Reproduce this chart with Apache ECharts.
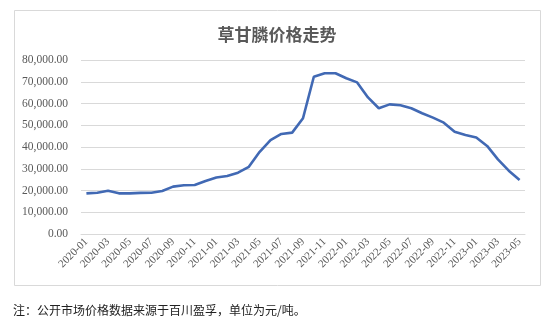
<!DOCTYPE html>
<html>
<head>
<meta charset="utf-8">
<script src="https://cdn.jsdelivr.net/npm/echarts@6/dist/echarts.min.js"></script>
<style>
html,body{margin:0;padding:0;background:#fff;}
#c{width:554px;height:325px;}
</style>
</head>
<body>
<div id="c"></div>
<script>
var titleText = '草甘膦价格走势';
var noteText = '注：公开市场价格数据来源于百川盈孚，单位为元/吨。';
var months = ['2020-01','2020-02','2020-03','2020-04','2020-05','2020-06','2020-07','2020-08','2020-09','2020-10','2020-11','2020-12',
  '2021-01','2021-02','2021-03','2021-04','2021-05','2021-06','2021-07','2021-08','2021-09','2021-10','2021-11','2021-12',
  '2022-01','2022-02','2022-03','2022-04','2022-05','2022-06','2022-07','2022-08','2022-09','2022-10','2022-11','2022-12',
  '2023-01','2023-02','2023-03','2023-04','2023-05'];
var prices = [18700,19000,19900,18700,18700,18900,19000,19800,21800,22400,22500,24400,
  26000,26700,28200,30900,37800,43200,46000,46600,53200,72300,73900,73900,
  71600,69700,62800,57800,59600,59200,57800,55500,53500,51200,47000,45500,
  44400,40500,34300,29100,24800];
var yTicks = {min:0, max:80000, interval:10000};

function fmt(v){
  var s = Math.round(v).toString().replace(/\B(?=(\d{3})+(?!\d))/g, ',');
  return s + '.00';
}
var serif = "'Liberation Serif', 'DejaVu Serif', serif";

var chart = echarts.init(document.getElementById('c'), null, {renderer:'canvas'});
chart.setOption({
  animation:false,
  backgroundColor:'#fff',
  title:{
    text:titleText, left:'center', top:21,
    textStyle:{fontFamily:'Noto Sans CJK SC', fontSize:17, fontWeight:'bold', color:'#595959'}
  },
  grid:{left:81, right:29, top:60, bottom:91, containLabel:false},
  xAxis:{
    type:'category', data:months, boundaryGap:true,
    axisLine:{show:true, lineStyle:{color:'#d9d9d9', width:1}},
    axisTick:{show:false},
    axisLabel:{interval:1, rotate:45, margin:6, color:'#595959', fontFamily:serif, fontSize:11}
  },
  yAxis:{
    type:'value', min:yTicks.min, max:yTicks.max, interval:yTicks.interval,
    axisLine:{show:false}, axisTick:{show:false},
    splitLine:{lineStyle:{color:'#d9d9d9', width:1}},
    axisLabel:{formatter:fmt, margin:13, color:'#595959', fontFamily:serif, fontSize:11.5}
  },
  series:[{
    type:'line', data:prices, showSymbol:false, symbol:'none',
    lineStyle:{color:'#4169B4', width:2.6}, itemStyle:{color:'#4169B4'}
  }],
  graphic:[
    {type:'rect', shape:{x:14.5, y:10.5, width:526, height:275}, style:{fill:null, stroke:'#d9d9d9', lineWidth:1}, z:-1},
    {type:'text', x:13, y:310, style:{text:noteText, fill:'#222', font:'12px "Noto Sans CJK SC"', textVerticalAlign:'middle'}}
  ]
});
</script>
</body>
</html>
